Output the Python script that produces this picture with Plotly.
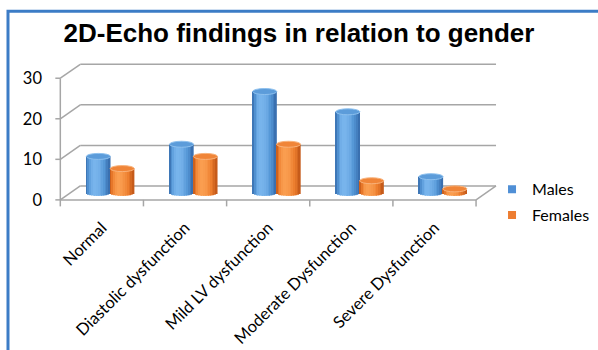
import math
import plotly.graph_objects as go

# ---- data -------------------------------------------------------------
categories = ["Normal", "Diastolic dysfunction", "Mild LV dysfunction",
              "Moderate Dysfunction", "Severe Dysfunction"]
males = [9, 12, 25, 20, 4]
females = [6, 9, 12, 3, 1]
y_ticks = [0, 10, 20, 30]

# ---- pseudo-3D geometry (axis units) ----------------------------------
DX, DY = 0.24, 3.44          # depth offset of the back wall
BASE = DY / 2                # cylinders stand at mid-depth on the floor
RY = 0.74                    # vertical radius of the cylinder ellipses
BAR_W = 0.29
N_STRIPS = 14
GRID = "#A6A6A6"

series = [
    dict(name="Males", values=males, center=-0.042,
         dark=(52, 104, 168), mid=(84, 150, 214), light=(120, 180, 236),
         top="#5C9CDA", rim="#8DC0EE", legend="#4F8FD6"),
    dict(name="Females", values=females, center=0.245,
         dark=(190, 84, 22), mid=(236, 125, 45), light=(250, 158, 80),
         top="#F08538", rim="#F9B27A", legend="#ED7D31"),
]


def mix(c1, c2, t):
    return "rgb(%d,%d,%d)" % tuple(round(a + (b - a) * t) for a, b in zip(c1, c2))


def shade(s, t):
    # brightness across the cylinder face, highlight left of centre
    t0 = -0.3
    d = (t0 - t) / (1 + t0) if t < t0 else (t - t0) / (1 - t0)
    b = max(0.0, 1 - d * d)
    if b < 0.6:
        return mix(s["dark"], s["mid"], b / 0.6)
    return mix(s["mid"], s["light"], (b - 0.6) / 0.4)


fig = go.Figure()
xs = list(range(len(categories)))
shapes = []

for s in series:
    sw = BAR_W / N_STRIPS
    for k in range(N_STRIPS):
        t = -1 + (2 * k + 1) / N_STRIPS
        drop = RY * math.sqrt(max(0.0, 1 - t * t))
        fig.add_trace(go.Bar(
            x=xs,
            y=[v + drop for v in s["values"]],
            base=[BASE - drop] * len(xs),
            width=sw * 1.08,
            offset=s["center"] - BAR_W / 2 + k * sw - sw * 0.04,
            marker=dict(color=shade(s, t), line=dict(width=0)),
            showlegend=False, hoverinfo="skip",
        ))
    # top faces of the cylinders
    for x, v in zip(xs, s["values"]):
        shapes.append(dict(
            type="circle", xref="x", yref="y", layer="above",
            x0=x + s["center"] - BAR_W / 2, x1=x + s["center"] + BAR_W / 2,
            y0=BASE + v - RY, y1=BASE + v + RY,
            fillcolor=s["top"], line=dict(color=s["rim"], width=1),
        ))
    # legend entry
    fig.add_trace(go.Scatter(
        x=[None], y=[None], mode="markers", name=s["name"],
        legendgroup=s["name"],
        marker=dict(symbol="square", size=8, color=s["legend"]),
    ))

# ---- walls, floor and axis lines ---------------------------------------
x_left, x_right = -0.5, len(categories) - 0.5


def seg(x0, y0, x1, y1, layer="below"):
    shapes.append(dict(type="line", xref="x", yref="y", layer=layer,
                       x0=x0, y0=y0, x1=x1, y1=y1,
                       line=dict(color=GRID, width=1.5)))


for lv in y_ticks:
    seg(x_left + DX, lv + DY, x_right + DX, lv + DY)      # back wall grid
    seg(x_left, lv, x_left + DX, lv + DY)                  # side diagonal
    seg(x_left - 0.06, lv, x_left, lv)                     # y tick mark
seg(x_left, 0, x_left, y_ticks[-1])                        # front value axis
seg(x_left, 0, x_right, 0)                                 # floor front edge
seg(x_right, 0, x_right + DX, DY)                          # floor right edge
for b in range(len(categories) + 1):
    seg(x_left + b, 0, x_left + b, -1.6)                   # category ticks

# outer frame
shapes.append(dict(type="rect", xref="paper", yref="paper", layer="above",
                   x0=-0.098, x1=1.6, y0=-1.5, y1=1.347,
                   line=dict(color="#3C7CC6", width=3)))

fig.update_layout(
    width=598, height=350,
    margin=dict(l=52, r=97, t=62, b=142, autoexpand=False),
    paper_bgcolor="white", plot_bgcolor="white",
    barmode="overlay",
    shapes=shapes,
    title=dict(text="<b>2D-Echo findings in relation to gender</b>",
               x=0.5, xref="container", xanchor="center",
               y=1 - 33 / 350, yref="container", yanchor="middle",
               font=dict(family="Liberation Sans, Arial", size=26, color="black")),
    xaxis=dict(range=[-0.6, 4.8], tickmode="array", tickvals=xs,
               ticktext=categories, tickangle=-45, ticks="",
               showgrid=False, zeroline=False, showline=False,
               automargin=False, ticklabelstandoff=6,
               tickfont=dict(family="Lato", size=16.5, color="black")),
    yaxis=dict(range=[-2, 34], tickmode="array", tickvals=y_ticks,
               ticks="", showgrid=False, zeroline=False, showline=False,
               automargin=False, ticklabelstandoff=9,
               tickfont=dict(family="Lato", size=16.5, color="black")),
    legend=dict(x=0.98, y=0.245, xanchor="left", yanchor="top",
                tracegroupgap=2, bgcolor="rgba(0,0,0,0)",
                font=dict(family="Lato", size=16, color="black")),
)

fig.write_html("out.html")
